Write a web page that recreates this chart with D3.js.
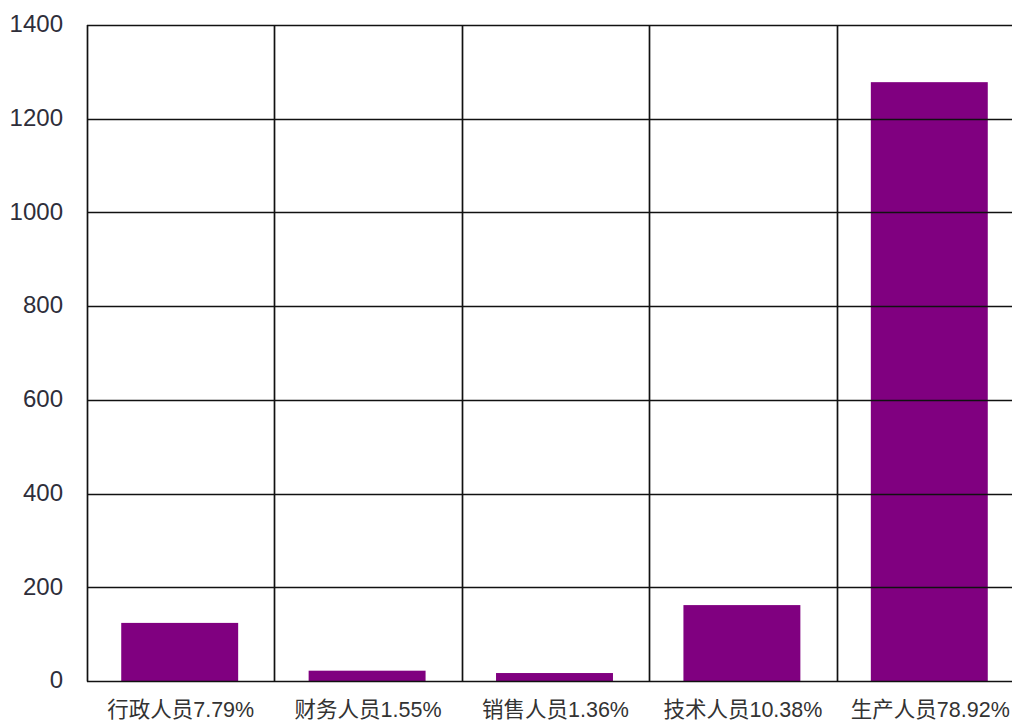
<!DOCTYPE html>
<html><head><meta charset="utf-8">
<script src="https://cdn.jsdelivr.net/npm/d3@7/dist/d3.min.js"></script>
<style>html,body{margin:0;padding:0;background:#fff;overflow:hidden}</style>
</head><body>
<svg id="c" width="1012" height="723"></svg>
<script>
const categories = ["行政人员7.79%", "财务人员1.55%", "销售人员1.36%", "技术人员10.38%", "生产人员78.92%"];
const values = [124, 22, 17, 162, 1278];
const yTicks = [0, 200, 400, 600, 800, 1000, 1200, 1400];

(function () {
const svg = d3.select("#c");
const pLeft = 87, pTop = 25, pBottom = 681, step = 187.4;
const x = d3.scaleBand().domain(categories).range([pLeft, pLeft + step * categories.length])
  .paddingInner(0.376).paddingOuter(0.188).align(0.5);
const y = d3.scaleLinear().domain([0, 1400]).range([pBottom, pTop]);
const xRight = pLeft + step * categories.length;

// bars
svg.append("g").selectAll("rect").data(values).join("rect")
  .attr("x", (d, i) => x(categories[i]) - 1)
  .attr("width", x.bandwidth())
  .attr("y", d => y(d))
  .attr("height", d => y(0) - y(d))
  .attr("fill", "#800080");

// horizontal grid
const g = svg.append("g").attr("stroke", "#111").attr("stroke-width", 1.7);
g.selectAll("line.h").data(yTicks).join("line").attr("class", "h")
  .attr("x1", pLeft).attr("x2", xRight)
  .attr("y1", d => Math.round(y(d)) + 0.5).attr("y2", d => Math.round(y(d)) + 0.5);
// vertical grid (band boundaries)
const bounds = categories.map((c, i) => pLeft + step * i);
g.selectAll("line.v").data(bounds).join("line").attr("class", "v")
  .attr("x1", d => Math.round(d) + 0.5).attr("x2", d => Math.round(d) + 0.5)
  .attr("y1", pTop).attr("y2", pBottom + 0.5);

// y axis labels
svg.append("g").selectAll("text").data(yTicks).join("text")
  .attr("x", 63).attr("y", d => y(d) + 1)
  .attr("text-anchor", "end").attr("dominant-baseline", "middle")
  .attr("font-family", "Liberation Sans, Arial, sans-serif").attr("font-size", 24)
  .attr("fill", "#2e2e3a")
  .text(d => d);

// x labels
svg.append("g").selectAll("text").data(categories).join("text")
  .attr("x", (d, i) => pLeft + step * i + step / 2)
  .attr("y", 717)
  .attr("text-anchor", "middle")
  .attr("fill", "#333")
  .attr("font-family", "Liberation Sans, Noto Sans CJK SC, sans-serif")
  .attr("font-size", 21.5)
  .text(d => d);
})();
</script>
</body></html>
